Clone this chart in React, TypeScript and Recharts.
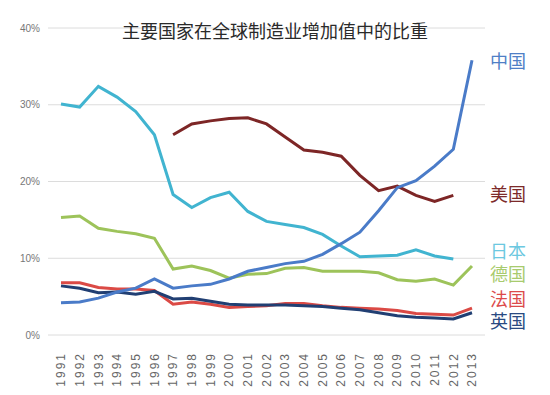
import { LineChart, Line, XAxis, YAxis, CartesianGrid } from 'recharts'

const years = [
  '1991', '1992', '1993', '1994', '1995', '1996', '1997', '1998', '1999', '2000', '2001', '2002',
  '2003', '2004', '2005', '2006', '2007', '2008', '2009', '2010', '2011', '2012', '2013',
]
const china = [4.2, 4.3, 4.8, 5.6, 6.1, 7.3, 6.1, 6.4, 6.6, 7.3, 8.3, 8.8, 9.3, 9.6, 10.5, 11.9, 13.4, 16.2, 19.2, 20.1, 22.0, 24.2, 35.8]
const usa = [null, null, null, null, null, null, 26.1, 27.5, 27.9, 28.2, 28.3, 27.5, 25.8, 24.1, 23.8, 23.3, 20.8, 18.8, 19.4, 18.2, 17.4, 18.2, null]
const japan = [30.1, 29.7, 32.4, 31.0, 29.1, 26.1, 18.3, 16.6, 17.9, 18.6, 16.1, 14.8, 14.4, 14.0, 13.1, 11.6, 10.2, 10.3, 10.4, 11.1, 10.3, 9.9, null]
const germany = [15.3, 15.5, 13.9, 13.5, 13.2, 12.6, 8.6, 9.0, 8.4, 7.4, 7.9, 8.0, 8.7, 8.8, 8.3, 8.3, 8.3, 8.1, 7.2, 7.0, 7.3, 6.5, 9.0]
const france = [6.8, 6.8, 6.2, 6.0, 6.0, 5.8, 4.0, 4.3, 4.0, 3.6, 3.7, 3.8, 4.1, 4.1, 3.8, 3.6, 3.5, 3.4, 3.2, 2.8, 2.7, 2.6, 3.5]
const uk = [6.4, 6.1, 5.5, 5.6, 5.3, 5.7, 4.7, 4.8, 4.4, 4.0, 3.9, 3.9, 3.9, 3.8, 3.7, 3.5, 3.3, 2.9, 2.5, 2.3, 2.2, 2.1, 2.9]
const yTicks = [0, 10, 20, 30, 40]

const data = years.map((year, i) => ({
  year,
  china: china[i],
  usa: usa[i],
  japan: japan[i],
  germany: germany[i],
  france: france[i],
  uk: uk[i],
}))

// 右侧国家标签
const labels = [
  { text: '中国', top: 62, color: '#4f7fc6' },
  { text: '美国', top: 195, color: '#7d2a2a' },
  { text: '日本', top: 252, color: '#6cc8e0' },
  { text: '德国', top: 275, color: '#a8cb6e' },
  { text: '法国', top: 300, color: '#dc4b4b' },
  { text: '英国', top: 322, color: '#2a4a82' },
]

function XTick({ x, y, payload }: any) {
  const ty = y + 9
  return (
    <text
      x={x}
      y={ty}
      dy="0.35em"
      textAnchor="end"
      transform={`rotate(-90 ${x} ${ty})`}
      fill="#666"
      fontSize={12}
      letterSpacing={2}
    >
      {payload.value}
    </text>
  )
}

export default function App() {
  return (
    <div
      style={{
        position: 'absolute',
        left: 0,
        top: 0,
        width: 550,
        height: 395,
        background: '#fff',
        fontFamily: '"Liberation Sans", "Noto Sans CJK SC", sans-serif',
      }}
    >
      <LineChart width={550} height={395} data={data} margin={{ top: 28, right: 65, left: 0, bottom: 0 }}>
        <CartesianGrid vertical={false} stroke="#dcdcdc" />
        <XAxis
          dataKey="year"
          axisLine={false}
          tickLine={false}
          interval={0}
          height={60}
          padding={{ left: 13, right: 13 }}
          tick={<XTick />}
        />
        <YAxis
          domain={[0, 40]}
          ticks={yTicks}
          width={48}
          axisLine={false}
          tickLine={false}
          tick={{ fill: '#777', fontSize: 10 }}
          tickFormatter={(v) => `${v}%`}
        />
        <Line dataKey="germany" stroke="#9dc35a" strokeWidth={3} dot={false} isAnimationActive={false} />
        <Line dataKey="japan" stroke="#41b4d0" strokeWidth={3} dot={false} isAnimationActive={false} />
        <Line dataKey="usa" stroke="#7d2626" strokeWidth={3} dot={false} isAnimationActive={false} />
        <Line dataKey="france" stroke="#db4a45" strokeWidth={3} dot={false} isAnimationActive={false} />
        <Line dataKey="uk" stroke="#213f73" strokeWidth={3} dot={false} isAnimationActive={false} />
        <Line dataKey="china" stroke="#4a7bc8" strokeWidth={3} dot={false} isAnimationActive={false} />
      </LineChart>
      <div
        style={{
          position: 'absolute',
          left: 0,
          width: 550,
          top: 20,
          textAlign: 'center',
          fontSize: 18,
          color: '#2a2a2a',
          lineHeight: '24px',
        }}
      >
        主要国家在全球制造业增加值中的比重
      </div>
      {labels.map((l) => (
        <div
          key={l.text}
          style={{
            position: 'absolute',
            left: 490,
            top: l.top - 12,
            fontSize: 18,
            lineHeight: '24px',
            color: l.color,
          }}
        >
          {l.text}
        </div>
      ))}
    </div>
  )
}
